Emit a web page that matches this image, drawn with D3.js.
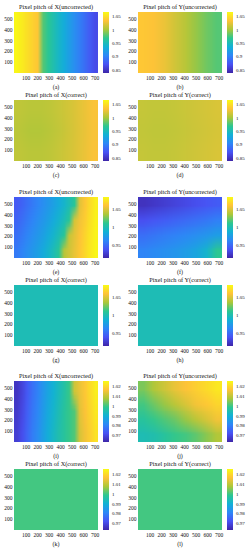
<!DOCTYPE html>
<html>
<head>
<meta charset="utf-8">
<script src="https://cdn.jsdelivr.net/npm/d3@7"></script>
<style>
	body { margin: 0; background: #fff; }
	text { font-family: "Liberation Serif", "Times New Roman", serif; fill: #111; }
</style>
</head>
<body>
<svg id="fig"></svg>
<script>
;(() => {
	'use strict';

	// panel titles and captions
	const titles = [
		'Pixel pitch of X(uncorrected)', 'Pixel pitch of Y(uncorrected)',
		'Pixel pitch of X(correct)', 'Pixel pitch of Y(correct)'
	];
	const captions = ['(a)', '(b)', '(c)', '(d)', '(e)', '(f)', '(g)', '(h)', '(i)', '(j)', '(k)', '(l)'];

	const xTicks = [100, 200, 300, 400, 500, 600, 700],
		yTicks = [100, 200, 300, 400, 500];

	// colour ranges + colorbar ticks, one per figure (a-d, e-h, i-l)
	const cRanges = [[0.8375, 1.065], [0.915, 1.082], [0.963, 1.025]];
	const cTicks = [
		[0.85, 0.9, 0.95, 1, 1.05],
		[0.95, 1, 1.05],
		[0.97, 0.98, 0.99, 1, 1.01, 1.02]
	];

	// parula
	const parula = ['#3e26a8', '#4852f4', '#2e87f7', '#12b1d6', '#2cc791', '#abc739', '#fec338', '#f9fb15'];

	// pitch grids, rows top -> bottom, cols left -> right (cell centres)
	const pitchA = [
		[1.062, 1.056, 1.049, 1.041, 1.035, 0.978, 0.966, 0.954, 0.942, 0.931, 0.920, 0.908, 0.897, 0.886, 0.875, 0.865]
	];
	const pitchB = [
		[1.035, 1.032, 1.025, 1.015, 1.005, 0.995, 0.985, 0.978]
	];
	const pitchC = [
		[1.008, 1.006, 1.006, 1.008, 1.012, 1.017, 1.024, 1.031],
		[1.006, 1.003, 1.003, 1.006, 1.010, 1.016, 1.023, 1.030],
		[1.008, 1.006, 1.006, 1.008, 1.012, 1.017, 1.024, 1.031]
	];
	const pitchD = [
		[1.010, 1.009, 1.009, 1.010, 1.012, 1.014, 1.016, 1.018],
		[1.009, 1.008, 1.008, 1.009, 1.011, 1.013, 1.015, 1.017],
		[1.010, 1.009, 1.009, 1.010, 1.012, 1.014, 1.016, 1.018]
	];
	const pitchE = [
		[0.942, 0.947, 0.952, 0.957, 0.962, 0.967, 0.972, 0.977, 0.983, 0.990, 0.998, 1.008, 1.050, 1.060, 1.069, 1.077],
		[0.947, 0.952, 0.957, 0.962, 0.967, 0.972, 0.977, 0.983, 0.990, 0.998, 1.008, 1.046, 1.055, 1.063, 1.071, 1.078],
		[0.952, 0.957, 0.962, 0.967, 0.972, 0.977, 0.983, 0.990, 0.998, 1.008, 1.042, 1.050, 1.058, 1.066, 1.073, 1.079],
		[0.957, 0.962, 0.967, 0.972, 0.977, 0.983, 0.990, 0.998, 1.008, 1.038, 1.045, 1.052, 1.060, 1.067, 1.074, 1.080]
	];
	const pitchF = [
		[0.922, 0.925, 0.928, 0.931, 0.934, 0.937, 0.940, 0.943],
		[0.938, 0.941, 0.944, 0.947, 0.950, 0.953, 0.956, 0.960],
		[0.952, 0.955, 0.958, 0.961, 0.964, 0.967, 0.971, 0.976],
		[0.962, 0.965, 0.968, 0.971, 0.975, 0.980, 0.990, 1.010]
	];
	const pitchG = [[0.998]],
		pitchH = [[0.998]];
	const pitchI = [
		[0.966, 0.969, 0.973, 0.977, 0.980, 0.984, 0.987, 0.990, 0.993, 0.996, 0.999, 1.011, 1.014, 1.017, 1.020, 1.023],
		[0.967, 0.970, 0.974, 0.978, 0.981, 0.985, 0.988, 0.991, 0.994, 0.997, 0.999, 1.001, 1.013, 1.016, 1.019, 1.022],
		[0.968, 0.971, 0.975, 0.979, 0.982, 0.986, 0.989, 0.992, 0.995, 0.997, 0.999, 1.001, 1.012, 1.015, 1.018, 1.021]
	];
	const pitchJ = [
		[1.004, 1.008, 1.011, 1.014, 1.016, 1.018, 1.020, 1.022],
		[1.000, 1.003, 1.006, 1.009, 1.012, 1.015, 1.017, 1.019],
		[0.997, 0.999, 1.001, 1.003, 1.006, 1.009, 1.012, 1.015],
		[0.994, 0.995, 0.997, 0.999, 1.000, 1.002, 1.005, 1.008]
	];
	const pitchK = [[1.0]],
		pitchL = [[1.0]];

	const grids = [pitchA, pitchB, pitchC, pitchD, pitchE, pitchF, pitchG, pitchH, pitchI, pitchJ, pitchK, pitchL];

	// layout
	const width = 249,
		height = 550,
		colX = [14, 138],
		rowY = [12, 100, 197, 285, 381, 469],
		plotW = 84,
		plotH = 61,
		barGap = 5,
		barW = 6;

	const svg = d3.select('#fig')
		.attr('width', width)
		.attr('height', height);

	const defs = svg.append('defs');

	/**
	* parula colour scale over a value range
	*/
	const makeColor = function(range) {
		const dom = parula.map((c, i) => range[0] + (range[1] - range[0]) * i / (parula.length - 1));
		return d3.scaleLinear().domain(dom).range(parula).clamp(true);
	};

	/**
	* turn a value grid into a tiny image, the browser smooths it when scaled
	*/
	const gridToImage = function(vals, color) {
		const rows = vals.length,
			cols = vals[0].length,
			cv = document.createElement('canvas');
		cv.width = cols;
		cv.height = rows;
		const ctx = cv.getContext('2d');
		vals.forEach((row, r) => {
			row.forEach((v, c) => {
				ctx.fillStyle = color(v);
				ctx.fillRect(c, r, 1, 1);
			});
		});
		return cv.toDataURL();
	};

	// colorbar gradient
	defs.append('linearGradient')
		.attr('id', 'parula')
		.attr('x1', 0).attr('y1', 1).attr('x2', 0).attr('y2', 0)
		.selectAll('stop')
		.data(parula)
		.enter()
		.append('stop')
		.attr('offset', (d, i) => i / (parula.length - 1))
		.attr('stop-color', d => d);

	const x = d3.scaleLinear().domain([0, 730]).range([0, plotW]),
		y = d3.scaleLinear().domain([0, 560]).range([plotH, 0]);

	grids.forEach((vals, p) => {
		const row = Math.floor(p / 2),
			col = p % 2,
			grp = Math.floor(p / 4),
			color = makeColor(cRanges[grp]);

		const g = svg.append('g')
			.attr('transform', `translate(${colX[col]},${rowY[row]})`);

		g.append('image')
			.attr('x', x(0))
			.attr('y', y(560))
			.attr('width', x(730) - x(0))
			.attr('height', y(0) - y(560))
			.attr('preserveAspectRatio', 'none')
			.attr('href', gridToImage(vals, color));

		// axes
		g.append('g')
			.attr('transform', `translate(0,${plotH})`)
			.call(d3.axisBottom(x).tickValues(xTicks).tickSize(0).tickPadding(3))
			.call(a => a.select('.domain').remove())
			.selectAll('text')
			.attr('font-size', 5.5);

		g.append('g')
			.call(d3.axisLeft(y).tickValues(yTicks).tickSize(0).tickPadding(1.5))
			.call(a => a.select('.domain').remove())
			.selectAll('text')
			.attr('font-size', 5.5);

		g.append('text')
			.attr('x', plotW / 2)
			.attr('y', -3)
			.attr('text-anchor', 'middle')
			.attr('font-size', 6.3)
			.text(titles[p % 4]);

		g.append('text')
			.attr('x', plotW / 2)
			.attr('y', plotH + 16)
			.attr('text-anchor', 'middle')
			.attr('font-size', 6)
			.text(captions[p]);

		// colorbar
		const cb = g.append('g')
			.attr('transform', `translate(${plotW + barGap},0)`);
		const cScale = d3.scaleLinear().domain(cRanges[grp]).range([plotH, 0]);

		cb.append('rect')
			.attr('width', barW)
			.attr('height', plotH)
			.attr('fill', 'url(#parula)');

		cb.append('g')
			.attr('transform', `translate(${barW},0)`)
			.call(d3.axisRight(cScale).tickValues(cTicks[grp]).tickFormat(d3.format('')).tickSize(0).tickPadding(3))
			.call(a => a.select('.domain').remove())
			.selectAll('text')
			.attr('font-size', 5);
	});

})();
</script>
</body>
</html>
